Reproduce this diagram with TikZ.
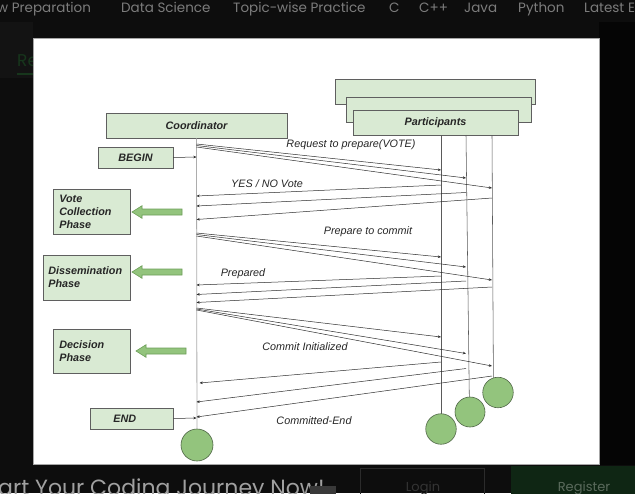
\documentclass[tikz,border=0pt]{standalone}
\usepackage{fontspec}
\setmainfont{Liberation Sans}
\newfontfamily\webfont{Poppins}
\usetikzlibrary{arrows.meta,calc}

\definecolor{pagebg}{HTML}{0D0D0D}
\definecolor{sidebg}{HTML}{131313}
\definecolor{stripbg}{HTML}{050505}
\definecolor{navgray}{HTML}{7C7C7C}
\definecolor{footgray}{HTML}{A0A0A0}
\definecolor{regfill}{HTML}{0F2614}
\definecolor{regtext}{HTML}{5A6A5C}
\definecolor{logintext}{HTML}{343434}
\definecolor{loginline}{HTML}{2B2B2B}
\definecolor{webgreen}{HTML}{17361C}
\definecolor{boxfill}{HTML}{D9EAD3}
\definecolor{boxline}{HTML}{5F5F5F}
\definecolor{dotfill}{HTML}{93C47D}
\definecolor{dotline}{HTML}{4F6646}
\definecolor{blockfill}{HTML}{93C47D}
\definecolor{blockline}{HTML}{6E9F5A}
\definecolor{msgline}{HTML}{2E2E2E}
\definecolor{lifegray}{HTML}{ADADAD}
\definecolor{lifedark}{HTML}{5A5A5A}
\definecolor{labeltext}{HTML}{262626}

\tikzset{
  gbox/.style={draw=boxline, fill=boxfill, line width=0.6pt, inner sep=0pt,
    text=labeltext, font=\fontsize{10.8}{13}\selectfont\bfseries\itshape},
  phasebox/.style={gbox, align=left, inner xsep=6pt, text width=#1, minimum height=45pt},
  msg/.style={draw=msgline, line width=0.5pt, -{Stealth[length=3.2pt,width=2.6pt]}},
  msglabel/.style={text=labeltext, font=\fontsize{10.8}{13}\selectfont\itshape, inner sep=0pt},
  coordline/.style={draw=lifegray, line width=0.8pt},
  partline/.style={draw=lifedark, line width=0.55pt},
  enddot/.style={circle, draw=dotline, fill=dotfill, line width=0.6pt, inner sep=0pt, minimum size=#1},
  navitem/.style={anchor=base west, text=navgray, inner sep=0pt, font=\webfont\fontsize{13.5}{14}\selectfont},
  pics/phasearrow/.style={code={
    \draw[fill=blockfill, draw=blockline, line width=0.6pt]
      (0,0) -- (10,-6.3) -- (10,-3) -- (50,-3) -- (50,3) -- (10,3) -- (10,6.3) -- cycle;}}
}

\begin{document}
\begin{tikzpicture}[x=1pt,y=-1pt]
\useasboundingbox (0,0) rectangle (635,493);

% page background around the figure
\fill[pagebg] (0,0) rectangle (635,493);
\fill[sidebg] (0,22) rectangle (33,78);
\fill[stripbg] (599,22) rectangle (635,465);
\node[anchor=base west, text=webgreen, inner sep=0pt, font=\webfont\fontsize{17}{17}\selectfont] (re) at (17,66) {Re};
\fill[webgreen] (17,73) rectangle (33,75);

% navigation bar
\node[navitem] (nav1) at (-3,12) {w Preparation};
\node[navitem] (nav2) at (121,12) {Data Science};
\node[navitem] (nav3) at (233,12) {Topic-wise Practice};
\node[navitem] (nav4) at (389,12) {C};
\node[navitem] (nav5) at (419,12) {C++};
\node[navitem] (nav6) at (464,12) {Java};
\node[navitem] (nav7) at (518,12) {Python};
\node[navitem] (nav8) at (584,12) {Latest E};

% footer bar
\node[anchor=base west, text=footgray, inner sep=0pt, font=\webfont\fontsize{22}{22}\selectfont] (cta) at (-2,495) {art Your Coding Journey Now!};
\fill[gray!45!black] (310,486) rectangle (336,494);
\node[draw=loginline, line width=0.8pt, anchor=north west, minimum width=124pt, minimum height=40pt] (loginbox) at (360,468) {};
\node[anchor=base, text=logintext, inner sep=0pt, font=\webfont\fontsize{13}{13}\selectfont] (login) at (423,491) {Login};
\fill[regfill] (511,466) rectangle (640,500);
\node[anchor=base, text=regtext, inner sep=0pt, font=\webfont\fontsize{13}{13}\selectfont] (register) at (584,491) {Register};

% white sheet holding the protocol diagram
\filldraw[fill=white, draw=gray!70, line width=0.6pt] (33,38) rectangle (599,464);

% coordinator side
\node[gbox, minimum width=181pt, minimum height=25pt] (coord) at (196.5,125.5) {Coordinator};
\node[gbox, minimum width=75pt, minimum height=21pt] (begin) at (135.5,157.5) {BEGIN};
\node[gbox, anchor=west, text width=37pt, inner xsep=23pt, align=left, minimum height=21pt] (endbox) at (90,418.5) {END};

% participants (stacked boxes)
\node[gbox, minimum width=200pt, minimum height=25pt] (partback) at (435,91.5) {};
\node[gbox, minimum width=185pt, minimum height=25pt] (partmid) at (438.5,109.5) {};
\node[gbox, minimum width=165pt, minimum height=25pt] (part) at (435.5,122.5) {\raisebox{2pt}{Participants}};

% phase boxes
\node[phasebox=65pt, anchor=west] (vote) at (53,211.5) {Vote\\Collection\\Phase};
\node[phasebox=77pt, inner xsep=5pt, anchor=west] (dissem) at (43,277.5) {Dissemination\\Phase};
\node[phasebox=65pt, minimum height=44pt, anchor=west] (decide) at (53,351) {Decision\\Phase};

\pic at (132,212) {phasearrow};
\pic at (132,272) {phasearrow};
\pic at (136,351) {phasearrow};

% lifelines
\coordinate (ct) at (coord.south);
\coordinate (p1t) at (441,135);
\coordinate (p2t) at (466,135);
\coordinate (p3t) at (492,135);
\coordinate (p1b) at (441,429);
\coordinate (p2b) at (469.5,412);
\coordinate (p3b) at (493.5,392.5);
\coordinate (cb) at (197,445);

\draw[coordline] (ct) -- (cb);
\draw[partline] (p1t) -- (p1b);
\draw[partline] (p2t) -- (p2b);
\draw[partline] (p3t) -- (p3b);

% begin / end markers
\draw[msg] (begin.east) -- (ct |- 0,157);
\draw[msg] (endbox.east) -- (ct |- 0,418);

% request to prepare
\draw[msg] (ct |- 0,144) -- (p1t |- 0,170);
\draw[msg] (ct |- 0,145.5) -- (p2t |- 0,178);
\draw[msg] (ct |- 0,147) -- (p3t |- 0,188);
\node[msglabel] (lreq) at (351,145) {Request to prepare(VOTE)};

% votes
\draw[msg] (p1t |- 0,185) -- (ct |- 0,196);
\draw[msg] (p2t |- 0,192.5) -- (ct |- 0,206);
\draw[msg] (p3t |- 0,198) -- (ct |- 0,219.5);
\node[msglabel] (lvote) at (267,184) {YES / NO Vote};

% prepare to commit
\draw[msg] (ct |- 0,233) -- (p1t |- 0,257);
\draw[msg] (ct |- 0,234.5) -- (p2t |- 0,267);
\draw[msg] (ct |- 0,236) -- (p3t |- 0,280);
\node[msglabel] (lprep) at (368,232) {Prepare to commit};

% prepared
\draw[msg] (p1t |- 0,276) -- (ct |- 0,285);
\draw[msg] (p2t |- 0,281) -- (ct |- 0,294.5);
\draw[msg] (p3t |- 0,287) -- (ct |- 0,302.5);
\node[msglabel] (lprepared) at (243,274) {Prepared};

% commit initialized
\draw[msg] (ct |- 0,308) -- (p1t |- 0,337);
\draw[msg] (ct |- 0,309) -- (p2t |- 0,353.5);
\draw[msg] (ct |- 0,310) -- (p3t |- 0,366);
\node[msglabel] (lcommit) at (305,347) {Commit Initialized};

% committed
\draw[msg] (p1t |- 0,362) -- ($(ct |- 0,383)+(3,0)$);
\draw[msg] (p2t |- 0,368.5) -- (ct |- 0,402);
\draw[msg] (p3t |- 0,376) -- (ct |- 0,417);
\node[msglabel] (ldone) at (314,421) {Committed-End};

% end of each lifeline
\node[enddot=32pt] (cend) at (cb) {};
\node[enddot=30.5pt] (p1end) at (p1b) {};
\node[enddot=30pt] (p2end) at (470,412) {};
\node[enddot=30.5pt] (p3end) at (498,392.5) {};
\end{tikzpicture}
\end{document}
